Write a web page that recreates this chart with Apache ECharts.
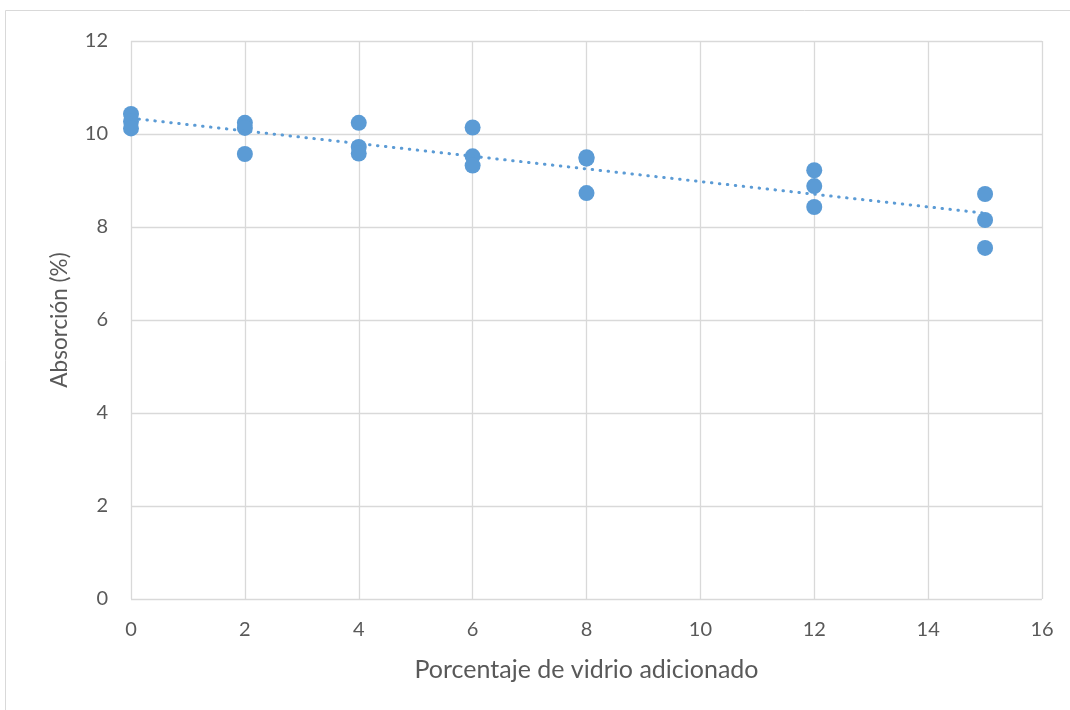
<!DOCTYPE html>
<html><head><meta charset="utf-8">
<script src="https://cdn.jsdelivr.net/npm/echarts@6/dist/echarts.min.js"></script>
<style>html,body{margin:0;padding:0;background:#fff}#c{width:1070px;height:710px}</style>
</head><body><div id="c"></div>
<script>
const xValues = [0,0,0, 2,2,2, 4,4,4, 6,6,6, 8,8,8, 12,12,12, 15,15,15];
const yValues = [10.43,10.27,10.12, 10.24,10.13,9.57, 10.24,9.72,9.58, 10.14,9.52,9.32, 9.50,9.47,8.73, 9.22,8.88,8.43, 8.71,8.15,7.55];
const xTicks = [0,2,4,6,8,10,12,14,16];
const yTicks = [0,2,4,6,8,10,12];
const xTitle = 'Porcentaje de vidrio adicionado';
const yTitle = 'Absorción (%)';

const pts = xValues.map((x,i)=>[x,yValues[i]]);
// least squares linear trendline
const n = pts.length;
let sx=0,sy=0,sxx=0,sxy=0;
pts.forEach(([x,y])=>{sx+=x;sy+=y;sxx+=x*x;sxy+=x*y;});
const slope=(n*sxy-sx*sy)/(n*sxx-sx*sx);
const icpt=(sy-slope*sx)/n;
const xMin=Math.min(...xValues), xMax=Math.max(...xValues);
const trend=[[xMin,icpt+slope*xMin],[xMax,icpt+slope*xMax]];

const FONT='Lato, sans-serif';
const chart=echarts.init(document.getElementById('c'),null,{renderer:'canvas'});
chart.setOption({
  animation:false,
  backgroundColor:'#fff',
  graphic:[{type:'rect',shape:{x:5.5,y:10.5,width:1100,height:750},style:{fill:'none',stroke:'#d9d9d9',lineWidth:1},silent:true}],
  grid:{left:131,right:28,top:41,bottom:111},
  xAxis:{type:'value',min:0,max:16,interval:2,
    name:xTitle,nameLocation:'middle',nameGap:58,
    nameTextStyle:{color:'#595959',fontSize:25,fontFamily:FONT},
    axisLine:{show:false},axisTick:{show:false},
    axisLabel:{color:'#595959',fontSize:20,fontFamily:FONT,margin:21},
    splitLine:{show:true,lineStyle:{color:'#d9d9d9',width:1.3}}},
  yAxis:{type:'value',min:0,max:12,interval:2,
    name:yTitle,nameLocation:'middle',nameGap:60,
    nameTextStyle:{color:'#595959',fontSize:22.5,fontFamily:FONT},
    axisLabel:{color:'#595959',fontSize:20,fontFamily:FONT,margin:23},
    axisLine:{show:false},axisTick:{show:false},
    splitLine:{show:true,lineStyle:{color:'#d9d9d9',width:1.3}}},
  series:[
    {type:'scatter',data:pts,symbolSize:16,itemStyle:{color:'#5b9bd5',opacity:1},z:3},
    {type:'line',data:trend,symbol:'none',lineStyle:{color:'#5b9bd5',width:3,type:[0.5,7.5],cap:'round'},z:4}
  ]
});
</script></body></html>
